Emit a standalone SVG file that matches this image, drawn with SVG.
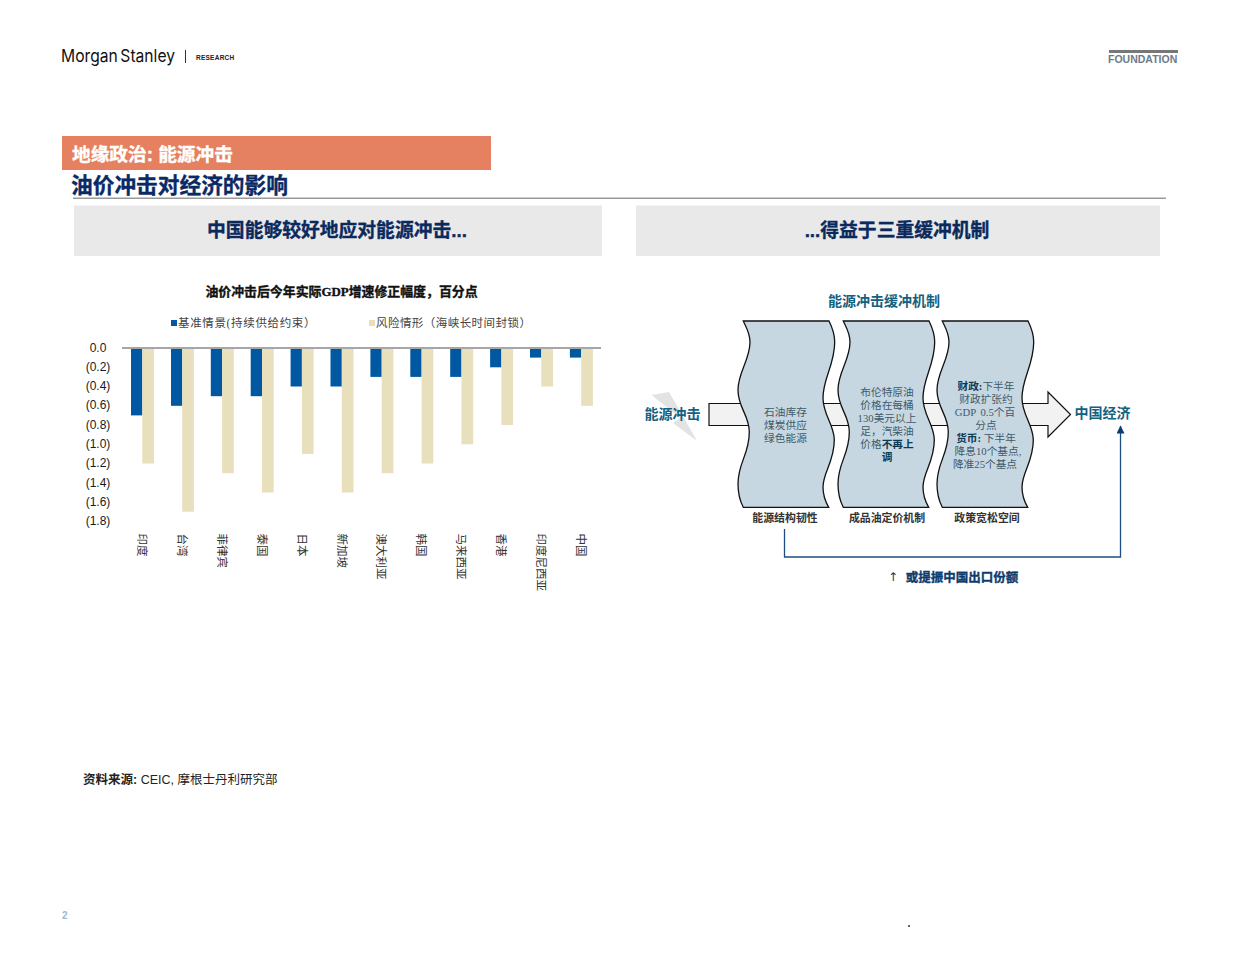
<svg xmlns="http://www.w3.org/2000/svg" width="1240" height="958" viewBox="0 0 1240 958">
<defs>
<style>
.cjk{font-family:"Liberation Sans","Noto Sans CJK SC",sans-serif}
.ser{font-family:"Liberation Serif","Noto Sans CJK SC",serif}
.b{font-weight:700}
.hv{stroke-width:.35}
.ax{font-size:12px;fill:#1a1a1a;text-anchor:middle;font-family:"Liberation Sans",sans-serif}
.cat{font-size:11.500px;fill:#333}
.blue{fill:#0058a3}
.bei{fill:#e8dfbc}
.wave{fill:#c6d7e1;stroke:#111;stroke-width:1.3}
.bt{font-size:10.700px;fill:#3d5a6c;text-anchor:middle}
.dk{fill:#0b3a55;font-weight:700}
.cap{font-size:10.900px;fill:#333;font-weight:700;text-anchor:middle}
.teal{fill:#14617f;font-weight:700;font-size:14px}
</style>
<path id="w" d="M743.3,321 L829,321 C832,327 834.7,333 834.7,342 C834.7,365 823,378 823,398 C823,415 834.3,425 834.3,440 C834.3,462 823,472 823,487 C823,495 825,501 828.7,507.3 L743.3,507.3 C740,501 738,495 738,484 C738,462 749.3,455 749.3,432 C749.3,415 738,408 738,390 C738,372 750,360 750,342 C750,333 746,327 743.3,321 Z"/>
<marker id="ah" markerWidth="9" markerHeight="9" refX="7.5" refY="4" orient="auto" markerUnits="userSpaceOnUse"><path d="M0,0 L8,4 L0,8 Z" fill="#0d3b6e"/></marker>
</defs>
<rect width="1240" height="958" fill="#fff"/>
<g id="header">
<text x="61" y="62" font-family="Inter,'Liberation Sans',sans-serif" font-size="17.500" fill="#111" word-spacing="-2" textLength="114" lengthAdjust="spacingAndGlyphs">Morgan Stanley</text>
<rect x="185" y="50" width="1" height="13" fill="#333"/>
<text x="196" y="60" font-family="'Liberation Sans',sans-serif" font-size="6.500" font-weight="700" fill="#222" letter-spacing=".25">RESEARCH</text>
<rect x="1109" y="50" width="69" height="3" fill="#777"/>
<text x="1108" y="63" font-family="'Liberation Sans',sans-serif" font-size="10.500" font-weight="700" fill="#6d7b88">FOUNDATION</text>
</g>
<g id="title">
<rect x="62" y="136" width="429" height="34" fill="#e58160"/>
<text x="72" y="161" class="cjk b hv" font-size="18.700" fill="#fff" stroke="#fff">地缘政治: 能源冲击</text>
<text x="71" y="193" class="cjk b hv" font-size="21.700" fill="#0a2a66" stroke="#0a2a66">油价冲击对经济的影响</text>
<rect x="73" y="197.500" width="1093" height="1.500" fill="#999"/>
</g>
<g id="panel-left">
<rect x="74" y="205.500" width="528" height="50.500" fill="#e9e9e9"/>
<text x="337" y="237" class="cjk b hv" font-size="18.800" fill="#0a2a5e" stroke="#0a2a5e" text-anchor="middle">中国能够较好地应对能源冲击...</text>
</g>
<g id="panel-right">
<rect x="636" y="205.500" width="524" height="50.500" fill="#e9e9e9"/>
<text x="897" y="237" class="cjk b hv" font-size="18.800" fill="#0a2a5e" stroke="#0a2a5e" text-anchor="middle">...得益于三重缓冲机制</text>
</g>
<g id="chart">
<text x="341.500" y="296" class="ser b hv" font-size="12.900" fill="#111" stroke="#111" text-anchor="middle">油价冲击后今年实际GDP增速修正幅度，百分点</text>
<rect x="171" y="320" width="6" height="6" class="blue"/>
<text x="178" y="327" class="ser" font-size="11.500" fill="#444" letter-spacing=".65">基准情景(持续供给约束）</text>
<rect x="369" y="320" width="6" height="6" class="bei"/>
<text x="376" y="327" class="ser" font-size="11.500" fill="#444" letter-spacing=".45">风险情形（海峡长时间封锁）</text>
<g id="bars">
<rect x="131" y="348" width="11.300" height="67.400" class="blue"/><rect x="142.300" y="348" width="11.700" height="115.500" class="bei"/>
<rect x="171" y="348" width="11.300" height="57.800" class="blue"/><rect x="182.200" y="348" width="11.700" height="163.700" class="bei"/>
<rect x="210.800" y="348" width="11.300" height="48.200" class="blue"/><rect x="222.100" y="348" width="11.700" height="125.200" class="bei"/>
<rect x="250.700" y="348" width="11.300" height="48.200" class="blue"/><rect x="262" y="348" width="11.700" height="144.500" class="bei"/>
<rect x="290.600" y="348" width="11.300" height="38.500" class="blue"/><rect x="301.900" y="348" width="11.700" height="105.900" class="bei"/>
<rect x="330.500" y="348" width="11.300" height="38.500" class="blue"/><rect x="341.800" y="348" width="11.700" height="144.500" class="bei"/>
<rect x="370.400" y="348" width="11.300" height="28.900" class="blue"/><rect x="381.700" y="348" width="11.700" height="125.200" class="bei"/>
<rect x="410.300" y="348" width="11.300" height="28.900" class="blue"/><rect x="421.600" y="348" width="11.700" height="115.500" class="bei"/>
<rect x="450.200" y="348" width="11.300" height="28.900" class="blue"/><rect x="461.500" y="348" width="11.700" height="96.300" class="bei"/>
<rect x="490.100" y="348" width="11.300" height="19.300" class="blue"/><rect x="501.400" y="348" width="11.700" height="77" class="bei"/>
<rect x="530" y="348" width="11.300" height="9.600" class="blue"/><rect x="541.300" y="348" width="11.700" height="38.500" class="bei"/>
<rect x="569.900" y="348" width="11.300" height="9.600" class="blue"/><rect x="581.200" y="348" width="11.700" height="57.800" class="bei"/>
</g>
<rect x="122" y="347" width="479" height="2" fill="#a6a6a6"/>
<g id="y-axis">
<text class="ax" x="98" y="352">0.0</text><text class="ax" x="98" y="371">(0.2)</text><text class="ax" x="98" y="390">(0.4)</text><text class="ax" x="98" y="409">(0.6)</text><text class="ax" x="98" y="429">(0.8)</text><text class="ax" x="98" y="448">(1.0)</text><text class="ax" x="98" y="467">(1.2)</text><text class="ax" x="98" y="487">(1.4)</text><text class="ax" x="98" y="506">(1.6)</text><text class="ax" x="98" y="525">(1.8)</text>
</g>
<g id="x-axis">
<text class="cat ser" transform="translate(138,533.500) rotate(90)">印度</text>
<text class="cat ser" transform="translate(178,533.500) rotate(90)">台湾</text>
<text class="cat ser" transform="translate(218,533.500) rotate(90)">菲律宾</text>
<text class="cat ser" transform="translate(258,533.500) rotate(90)">泰国</text>
<text class="cat ser" transform="translate(298,533.500) rotate(90)">日本</text>
<text class="cat ser" transform="translate(338,533.500) rotate(90)">新加坡</text>
<text class="cat ser" transform="translate(377,533.500) rotate(90)">澳大利亚</text>
<text class="cat ser" transform="translate(417,533.500) rotate(90)">韩国</text>
<text class="cat ser" transform="translate(457,533.500) rotate(90)">马来西亚</text>
<text class="cat ser" transform="translate(497,533.500) rotate(90)">香港</text>
<text class="cat ser" transform="translate(537,533.500) rotate(90)">印度尼西亚</text>
<text class="cat ser" transform="translate(577,533.500) rotate(90)">中国</text>
</g>
</g>
<text x="884" y="305.500" class="ser teal" text-anchor="middle">能源冲击缓冲机制</text>
<g id="flow-arrow">
<path d="M709,403.500 H1048 V392 L1070.500,414.500 L1048,437 V425.500 H709 Z" fill="#f2f2f2" stroke="#111" stroke-width="1.200"/>
</g>
<g id="node-shock">
<path d="M651.500,395 L669,392 L684,418 L697,441 L673,423 L680,418 Z" fill="#e3e3e3"/>
<text x="672.500" y="419" class="ser teal" text-anchor="middle">能源冲击</text>
</g>
<g id="node-structure">
<use href="#w" class="wave"/>
<g class="ser bt"><text x="785.500" y="416">石油库存</text><text x="785.500" y="429">煤炭供应</text><text x="785.500" y="442">绿色能源</text></g>
<text x="785" y="522" class="ser cap">能源结构韧性</text>
</g>
<g id="node-pricing">
<use href="#w" x="100" class="wave"/>
<g class="ser bt"><text x="887" y="396">布伦特原油</text><text x="887" y="409">价格在每桶</text><text x="887" y="422">130美元以上</text><text x="887" y="435">足，汽柴油</text><text x="887" y="448">价格<tspan class="dk">不再上</tspan></text><text x="887" y="461" class="dk">调</text></g>
<text x="887" y="522" class="ser cap">成品油定价机制</text>
</g>
<g id="node-policy">
<use href="#w" x="199" class="wave"/>
<g class="ser bt"><text x="986" y="390"><tspan class="dk">财政:</tspan>下半年</text><text x="986" y="403">财政扩张约</text><text x="985" y="416" word-spacing="2">GDP 0.5个百</text><text x="986" y="429">分点</text><text x="986" y="442"><tspan class="dk">货币:</tspan> 下半年</text><text x="988" y="455">降息10个基点,</text><text x="985" y="468">降准25个基点</text></g>
<text x="987" y="522" class="ser cap">政策宽松空间</text>
</g>
<g id="node-economy">
<text x="1102.500" y="418" class="ser teal" text-anchor="middle">中国经济</text>
</g>
<g id="connectors">
<path d="M784.500,529 V557 H1120.500 V426" fill="none" stroke="#1c4d80" stroke-width="1.300" marker-end="url(#ah)"/>
</g>
<g id="note">
<text x="893" y="581" font-family="'DejaVu Sans',sans-serif" font-size="12" fill="#0d3b6e" text-anchor="middle">↑</text>
<text x="962" y="582" class="ser b hv" font-size="12.500" fill="#0d3b6e" stroke="#0d3b6e" text-anchor="middle">或提振中国出口份额</text>
</g>
<text x="83" y="783.500" class="cjk" font-size="12.500" fill="#222"><tspan font-weight="700">资料来源:</tspan> CEIC, 摩根士丹利研究部</text>
<text x="62" y="919" font-family="'Liberation Sans',sans-serif" font-size="10" font-weight="700" fill="#9db8cf">2</text>
<rect x="908" y="925" width="2" height="2" fill="#666"/>
</svg>
